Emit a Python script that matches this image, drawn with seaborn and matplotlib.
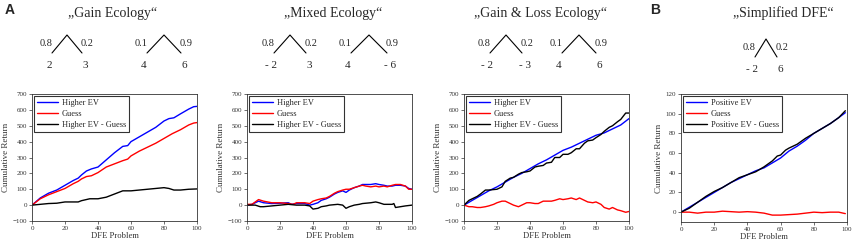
import numpy as np
import pandas as pd
import matplotlib
matplotlib.use("Agg")
import matplotlib.pyplot as plt
from matplotlib.lines import Line2D
import seaborn as sns

# ---------------- data ----------------
titles = ["\u201eGain Ecology\u201c", "\u201eMixed Ecology\u201c", "\u201eGain & Loss Ecology\u201c", "\u201eSimplified DFE\u201c"]
probs = [[("0.8", "0.2"), ("0.1", "0.9")],
         [("0.8", "0.2"), ("0.1", "0.9")],
         [("0.8", "0.2"), ("0.1", "0.9")],
         [("0.8", "0.2")]]
outcomes = [[("2", "3"), ("4", "6")],
            [("- 2", "3"), ("4", "- 6")],
            [("- 2", "- 3"), ("4", "6")],
            [("- 2", "6")]]
legend_names = [["Higher EV", "Guess", "Higher EV - Guess"]] * 3 + [["Positive EV", "Guess", "Positive EV - Guess"]]

# Panel 1: Gain ecology
g_x_blue = [0, 5, 10, 15, 20, 25, 28, 30, 33, 36, 40, 45, 50, 55, 58, 60, 65, 70, 75, 80, 83, 86, 90, 95, 98, 100]
g_blue = [0, 45, 75, 95, 125, 155, 170, 190, 215, 228, 240, 285, 330, 370, 375, 400, 430, 460, 490, 530, 545, 550, 575, 605, 620, 622]
g_x_red = [0, 5, 10, 15, 20, 25, 28, 30, 33, 36, 40, 45, 50, 55, 58, 60, 65, 70, 75, 80, 85, 90, 95, 98, 100]
g_red = [0, 40, 65, 85, 105, 135, 150, 165, 180, 185, 205, 240, 260, 280, 290, 310, 340, 365, 390, 420, 450, 475, 505, 517, 520]
g_x_blk = [0, 5, 10, 15, 20, 25, 28, 30, 35, 40, 45, 50, 55, 60, 65, 70, 75, 80, 83, 86, 90, 95, 100]
g_blk = [0, 5, 10, 12, 20, 20, 20, 28, 40, 40, 50, 70, 90, 90, 95, 100, 105, 110, 105, 95, 95, 100, 102]

# Panel 2: Mixed ecology
m_x_blue = [0, 3, 7, 10, 15, 20, 25, 27, 30, 35, 38, 40, 43, 45, 48, 50, 53, 55, 58, 60, 62, 65, 68, 70, 72, 75, 78, 80, 83, 85, 88, 90, 93, 96, 98, 100]
m_blue = [0, 5, 25, 15, 10, 12, 15, 5, 10, 10, 0, 5, 15, 30, 40, 50, 70, 80, 90, 80, 95, 110, 120, 130, 130, 130, 135, 130, 125, 120, 120, 125, 125, 120, 105, 100]
m_x_red = [0, 3, 7, 10, 15, 20, 25, 28, 30, 35, 38, 40, 43, 45, 48, 50, 53, 55, 58, 60, 62, 65, 68, 70, 72, 75, 78, 80, 83, 85, 88, 90, 93, 96, 98, 100]
m_red = [5, 5, 35, 25, 15, 15, 10, 5, 15, 15, 10, 25, 35, 40, 45, 55, 75, 85, 95, 100, 100, 110, 120, 125, 120, 115, 120, 115, 120, 115, 125, 130, 130, 120, 100, 100]
m_x_blk = [0, 5, 8, 10, 15, 20, 25, 30, 35, 38, 40, 43, 45, 48, 50, 55, 58, 60, 62, 65, 68, 70, 75, 78, 80, 83, 85, 88, 89, 90, 93, 96, 100]
m_blk = [0, 0, -10, -10, -5, 0, 5, 0, 0, -5, -25, -20, -10, -5, 0, 5, 0, -20, -10, 0, 5, 10, 15, 20, 15, 5, 5, 5, 10, -15, -10, -5, 0]

# Panel 3: Gain & Loss ecology
l_x_blue = [0, 5, 10, 15, 20, 25, 30, 35, 40, 45, 50, 55, 60, 65, 70, 75, 80, 85, 90, 95, 100]
l_blue = [0, 30, 60, 90, 115, 145, 175, 200, 230, 260, 285, 315, 345, 365, 390, 415, 440, 455, 480, 505, 545]
l_x_red = [0, 3, 5, 8, 10, 13, 15, 18, 20, 23, 25, 28, 30, 33, 35, 38, 40, 43, 45, 48, 50, 53, 55, 58, 60, 63, 65, 68, 70, 73, 75, 78, 80, 83, 85, 88, 90, 93, 95, 98, 100]
l_red = [0, -10, -10, -15, -15, -10, -5, 5, 15, 25, 25, 10, 0, -10, 0, 15, 15, 10, 10, 25, 25, 25, 30, 40, 35, 40, 45, 35, 45, 30, 20, 15, 20, 5, -15, -25, -15, -30, -35, -45, -40]
l_x_blk = [0, 3, 5, 8, 10, 13, 15, 20, 23, 25, 28, 30, 33, 35, 38, 40, 43, 45, 48, 50, 53, 55, 58, 60, 63, 65, 68, 70, 73, 75, 78, 80, 83, 85, 88, 90, 93, 95, 98, 100]
l_blk = [0, 30, 40, 55, 70, 95, 95, 100, 115, 150, 170, 175, 195, 205, 210, 215, 240, 245, 250, 265, 270, 300, 300, 320, 320, 330, 355, 355, 390, 405, 410, 425, 445, 465, 490, 500, 525, 540, 580, 580]

# Panel 4: Simplified DFE
s_x_blue = [0, 5, 10, 15, 20, 25, 30, 35, 40, 45, 50, 55, 60, 65, 70, 75, 80, 85, 90, 95, 99]
s_blue = [0, 5, 10, 15, 20, 25, 30, 34, 38, 42, 45, 50, 55, 62, 67, 73, 80, 85, 90, 96, 101]
s_x_red = [0, 5, 10, 15, 20, 25, 30, 35, 40, 45, 50, 55, 60, 65, 70, 75, 80, 85, 90, 95, 99]
s_red = [0, 0, -1, 0, 0, 1, 0.5, 0, 0.5, 0, -1, -3, -3, -2.5, -2, -1, 0, -0.5, 0, 0, -1.5]
s_x_blk = [0, 5, 10, 15, 20, 25, 30, 35, 40, 45, 50, 55, 58, 60, 63, 65, 70, 75, 80, 85, 90, 95, 99]
s_blk = [0, 4, 10, 16, 21, 25, 30, 35, 38, 41, 46, 52, 57, 58, 63, 65, 69, 75, 80, 85, 90, 96, 103]

series = [
    [(g_x_blue, g_blue), (g_x_red, g_red), (g_x_blk, g_blk)],
    [(m_x_blue, m_blue), (m_x_red, m_red), (m_x_blk, m_blk)],
    [(l_x_blue, l_blue), (l_x_red, l_red), (l_x_blk, l_blk)],
    [(s_x_blue, s_blue), (s_x_red, s_red), (s_x_blk, s_blk)],
]
yticks_big = [-100, 0, 100, 200, 300, 400, 500, 600, 700]
yticks_small = [0, 20, 40, 60, 80, 100, 120]
xticks = [0, 20, 40, 60, 80, 100]

# ---------------- style ----------------
sns.set_theme(style="ticks")
SERIF = ["Liberation Serif", "DejaVu Serif"]
plt.rcParams["font.family"] = SERIF

W, H = 855, 243
fig = plt.figure(figsize=(W / 100, H / 100), dpi=100)
colors = ["#0000ff", "#ff0000", "#000000"]

# axes boxes in pixels (left, right, top, bottom)
boxes = [(32, 197, 94, 221), (247, 412, 94, 221), (464, 629, 94, 221), (681, 847, 94, 222)]

def px_ax(l, r, t, b):
    return [l / W, 1 - b / H, (r - l) / W, (b - t) / H]

for i, (l, r, t, b) in enumerate(boxes):
    ax = fig.add_axes(px_ax(l, r, t, b))
    for j, (xs, ys) in enumerate(series[i]):
        sns.lineplot(x=xs, y=ys, color=colors[j], linewidth=1.0, ax=ax,
                     label=legend_names[i][j], estimator=None)
    ax.set_xlim(0, 100)
    ax.set_xticks(xticks)
    if i < 3:
        ax.set_ylim(-100, 700)
        ax.set_yticks(yticks_big)
    else:
        ax.set_ylim(-10, 120)
        ax.set_yticks(yticks_small)
    ax.tick_params(direction="out", length=2, width=0.5, labelsize=5,
                   colors="#333333", pad=1.5)
    for sp in ax.spines.values():
        sp.set_visible(True)
        sp.set_linewidth(0.6)
        sp.set_color("#333333")
    ax.set_xlabel("DFE Problem", fontsize=6.2, color="#333333", labelpad=1)
    ax.set_ylabel("Cumulative Return", fontsize=6.5, color="#333333", labelpad=2)
    leg = ax.legend(loc="upper left", fontsize=6, frameon=True, fancybox=False,
                    handlelength=2.6, handletextpad=0.4, borderpad=0.35,
                    labelspacing=0.4, borderaxespad=0.2)
    leg.get_frame().set_edgecolor("black")
    leg.get_frame().set_linewidth(0.8)
    for h in leg.get_lines():
        h.set_linewidth(1.0)

# ---------------- headings and lottery trees ----------------
def fx(x):
    return x / W

def fy(y):
    return 1 - y / H

title_x = [113, 333, 540, 783]
for i, tx in enumerate(title_x):
    fig.text(fx(tx), fy(13), titles[i], ha="center", va="center", fontsize=10, family=SERIF)

fig.text(fx(10), fy(10), "A", ha="center", va="center", fontsize=10, fontweight="bold",
         family=["Liberation Sans", "DejaVu Sans"])
fig.text(fx(655), fy(10), "B", ha="center", va="center", fontsize=10, fontweight="bold",
         family=["Liberation Sans", "DejaVu Sans"])

trees = [
    (0, 0, 67, 15), (0, 1, 164, 17),
    (1, 0, 290, 16), (1, 1, 369, 18),
    (2, 0, 506, 16), (2, 1, 579, 17),
    (3, 0, 766, 11),
]
for (p, k, ax_x, hw) in trees:
    if p == 3:
        ay, ly, py, oy = 39, 57, 47, 70
    else:
        ay, ly, py, oy = 35, 53, 43, 65
    fig.add_artist(Line2D([fx(ax_x - hw), fx(ax_x), fx(ax_x + hw)], [fy(ly), fy(ay), fy(ly)],
                          color="black", linewidth=0.8, transform=fig.transFigure))
    pl, pr = probs[p][k]
    ol, orr = outcomes[p][k]
    fig.text(fx(ax_x - hw - 6), fy(py), pl, ha="center", va="center", fontsize=7.5, family=SERIF)
    fig.text(fx(ax_x + hw + 5), fy(py), pr, ha="center", va="center", fontsize=7.5, family=SERIF)
    fig.text(fx(ax_x - hw - 3), fy(oy), ol, ha="center", va="center", fontsize=8, family=SERIF)
    fig.text(fx(ax_x + hw + 3), fy(oy), orr, ha="center", va="center", fontsize=8, family=SERIF)

fig.savefig("out.png", dpi=100)
